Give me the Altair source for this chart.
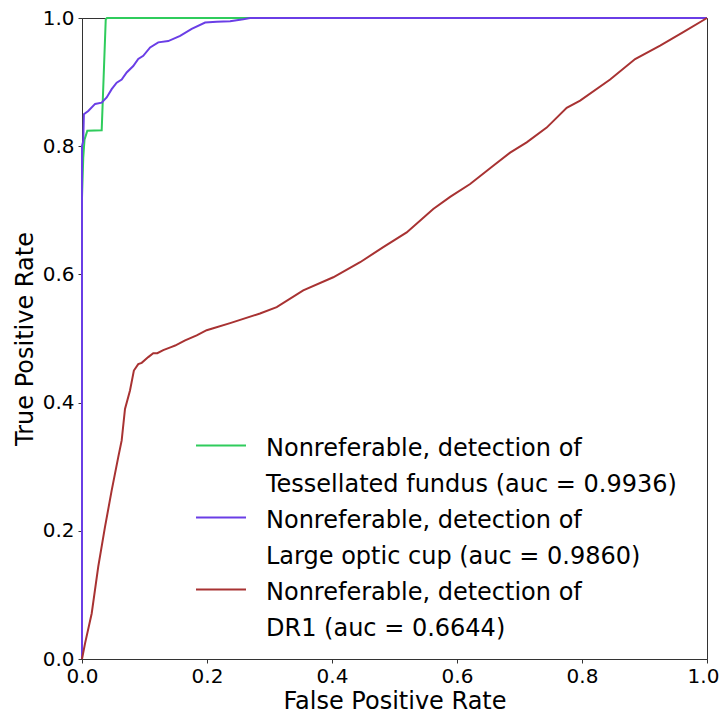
import altair as alt
import pandas as pd

# ---- data ----
tess_fpr = [0.0, 0.0, 0.002, 0.004, 0.0085, 0.0315, 0.038, 0.040, 1.0]
tess_tpr = [0.0, 0.72, 0.782, 0.810, 0.824, 0.825, 0.998, 1.0, 1.0]

cup_fpr = [0.0, 0.0, 0.002, 0.003, 0.010, 0.021, 0.0315, 0.0395, 0.0475, 0.0555,
           0.0635, 0.0715, 0.082, 0.090, 0.098, 0.109, 0.122, 0.138, 0.157,
           0.1755, 0.197, 0.2155, 0.237, 0.258, 0.269, 1.0]
cup_tpr = [0.0, 0.80, 0.808, 0.850, 0.855, 0.866, 0.868, 0.876, 0.889, 0.899,
           0.904, 0.915, 0.925, 0.936, 0.941, 0.954, 0.962, 0.964, 0.972,
           0.983, 0.993, 0.994, 0.995, 0.998, 1.0, 1.0]

dr1_fpr = [0.0, 0.0048, 0.0155, 0.026, 0.0368, 0.0475, 0.058, 0.0635, 0.0688,
           0.0768, 0.083, 0.090, 0.0955, 0.106, 0.114, 0.1205, 0.130, 0.1435,
           0.149, 0.165, 0.1835, 0.1995, 0.210, 0.237, 0.2848, 0.3115, 0.354,
           0.402, 0.445, 0.482, 0.5195, 0.562, 0.589, 0.621, 0.658, 0.685,
           0.7115, 0.7435, 0.7755, 0.797, 0.845, 0.885, 0.925, 0.962, 1.0]
dr1_tpr = [0.0, 0.024, 0.071, 0.144, 0.206, 0.263, 0.315, 0.341, 0.390,
           0.419, 0.450, 0.460, 0.462, 0.471, 0.477, 0.477, 0.482, 0.487,
           0.489, 0.497, 0.505, 0.513, 0.516, 0.524, 0.539, 0.549, 0.575,
           0.5955, 0.619, 0.6425, 0.6655, 0.702, 0.721, 0.741, 0.7695, 0.790,
           0.806, 0.829, 0.860, 0.871, 0.904, 0.936, 0.957, 0.978, 1.0]

series_names = ["Tessellated fundus", "Large optic cup", "DR1"]
auc_values = ["0.9936", "0.9860", "0.6644"]
colors = ["#2fcc5c", "#6a3ee6", "#a83232"]
tick_values = [0.0, 0.2, 0.4, 0.6, 0.8, 1.0]

FONT = "DejaVu Sans"
W, H = 625, 641
TOP = 10

curves = [(tess_fpr, tess_tpr), (cup_fpr, cup_tpr), (dr1_fpr, dr1_tpr)]

x_axis = alt.Axis(values=tick_values, format=".1f", grid=False, labelFlush=False,
                  labelOffset=alt.expr("datum.value == 1 ? -4 : 0"),
                  labelFont=FONT, labelFontSize=20, labelColor="black", labelPadding=3,
                  tickSize=4, tickColor="#333", domainColor="#333",
                  titleFont=FONT, titleFontSize=24, titleFontWeight="normal",
                  titleColor="black", titlePadding=3)
y_axis = alt.Axis(values=tick_values, format=".1f", grid=False,
                  labelFont=FONT, labelFontSize=20, labelColor="black", labelPadding=4,
                  tickSize=4, tickColor="#333", domainColor="#333",
                  titleFont=FONT, titleFontSize=24, titleFontWeight="normal",
                  titleColor="black", titlePadding=5)

layers = []
for (fx, ty), name, col in zip(curves, series_names, colors):
    df = pd.DataFrame({"fpr": fx, "tpr": ty, "idx": range(len(fx))})
    layers.append(
        alt.Chart(df).mark_line(color=col, strokeWidth=2).encode(
            x=alt.X("fpr:Q", title="False Positive Rate",
                    scale=alt.Scale(domain=[0, 1], nice=False, zero=False), axis=x_axis),
            y=alt.Y("tpr:Q", title="True Positive Rate",
                    scale=alt.Scale(domain=[0, 1], nice=False, zero=False), axis=y_axis),
            order="idx:Q",
        )
    )

# ---- legend (inside plot, lower right) ----
text_rows = []
sym_rows = []
line_h = 36
base0 = 437.5
for i, (name, auc, col) in enumerate(zip(series_names, auc_values, colors)):
    b1 = base0 + line_h * (2 * i)
    b2 = b1 + line_h
    text_rows.append({"t": "Nonreferable, detection of", "py": b1})
    text_rows.append({"t": f"{name} (auc = {auc})", "py": b2})
    sym_rows.append({"py": b1 - 10, "c": col})

legend_text = alt.Chart(pd.DataFrame(text_rows)).mark_text(
    align="left", baseline="alphabetic", font=FONT, fontSize=24, color="black"
).encode(x=alt.value(184), y=alt.Y("py:Q", scale=None), text="t:N")

legend_sym = alt.Chart(pd.DataFrame(sym_rows)).mark_rule(strokeWidth=2).encode(
    x=alt.value(114), x2=alt.value(164),
    y=alt.Y("py:Q", scale=None),
    color=alt.Color("c:N", scale=None),
)

chart = alt.layer(*layers, legend_sym, legend_text).properties(
    width=W, height=H,
    autosize=alt.AutoSizeParams(type="none"),
    padding={"left": 74, "top": TOP, "right": 12, "bottom": 701 - TOP - H},
).configure_view(stroke="#333", strokeWidth=1)

chart.save("out.html", embed_options={"renderer": "svg", "actions": False})
